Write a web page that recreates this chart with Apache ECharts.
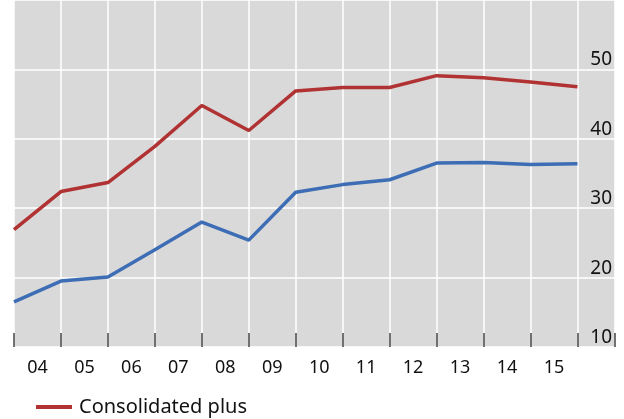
<!DOCTYPE html>
<html>
<head>
<meta charset="utf-8">
<script src="https://cdn.jsdelivr.net/npm/echarts@6/dist/echarts.min.js"></script>
<style>
  html, body { margin: 0; padding: 0; background: #fff; }
  #chart { width: 624px; height: 419px; }
</style>
</head>
<body>
<div id="chart"></div>
<script>
const years = ['04', '05', '06', '07', '08', '09', '10', '11', '12', '13', '14', '15'];
// points sit on the year boundaries (start of 04 ... end of 15)
const consolidatedPlus = [26.9, 32.4, 33.7, 38.9, 44.8, 41.2, 46.9, 47.4, 47.4, 49.1, 48.8, 48.2, 47.5];
const otherSeries = [16.5, 19.5, 20.1, 24.0, 28.0, 25.4, 32.3, 33.4, 34.1, 36.5, 36.6, 36.3, 36.4];
const yTicks = [10, 20, 30, 40, 50];

const chart = echarts.init(document.getElementById('chart'));
const font = 'Noto Sans';

const option = {
  animation: false,
  textStyle: { fontFamily: font },
  grid: {
    left: 14,
    right: 9,
    top: 0,
    bottom: 72,
    show: true,
    backgroundColor: '#d9d9d9',
    borderWidth: 0
  },
  xAxis: {
    type: 'value',
    min: 0,
    max: 12.8,
    interval: 1,
    axisLine: { show: false },
    axisTick: {
      show: true,
      inside: true,
      length: 14,
      lineStyle: { color: '#444', width: 1.5 }
    },
    splitLine: { show: true, lineStyle: { color: '#ffffff', width: 1.5 } },
    axisLabel: {
      customValues: years.map((y, i) => i + 0.5),
      formatter: v => years[Math.floor(v)] || '',
      color: '#111',
      fontSize: 18,
      margin: 12,
      fontFamily: font
    }
  },
  yAxis: {
    type: 'value',
    position: 'right',
    min: 10,
    max: 60,
    interval: 10,
    axisLine: { show: false },
    axisTick: { show: false },
    splitLine: { show: true, lineStyle: { color: '#ffffff', width: 1.5 } },
    axisLabel: {
      inside: true,
      showMaxLabel: false,
      formatter: v => (yTicks.indexOf(v) >= 0 ? String(v) : ''),
      verticalAlign: 'bottom',
      color: '#111',
      fontSize: 19,
      margin: 3,
      fontFamily: font
    }
  },
  legend: {
    data: ['Consolidated plus'],
    icon: 'rect',
    left: 31,
    top: 392,
    itemWidth: 36,
    itemHeight: 4,
    itemGap: 10,
    textStyle: { color: '#111', fontSize: 20, fontFamily: font, padding: [0, 0, 0, 2] }
  },
  series: [
    {
      name: 'Consolidated plus',
      type: 'line',
      data: consolidatedPlus.map((v, i) => [i, v]),
      symbol: 'none',
      lineStyle: { color: '#b03232', width: 3.5 },
      itemStyle: { color: '#b03232' }
    },
    {
      name: 'Other',
      type: 'line',
      data: otherSeries.map((v, i) => [i, v]),
      symbol: 'none',
      lineStyle: { color: '#3d6db4', width: 3.5 },
      itemStyle: { color: '#3d6db4' }
    }
  ]
};

chart.setOption(option);
</script>
</body>
</html>
